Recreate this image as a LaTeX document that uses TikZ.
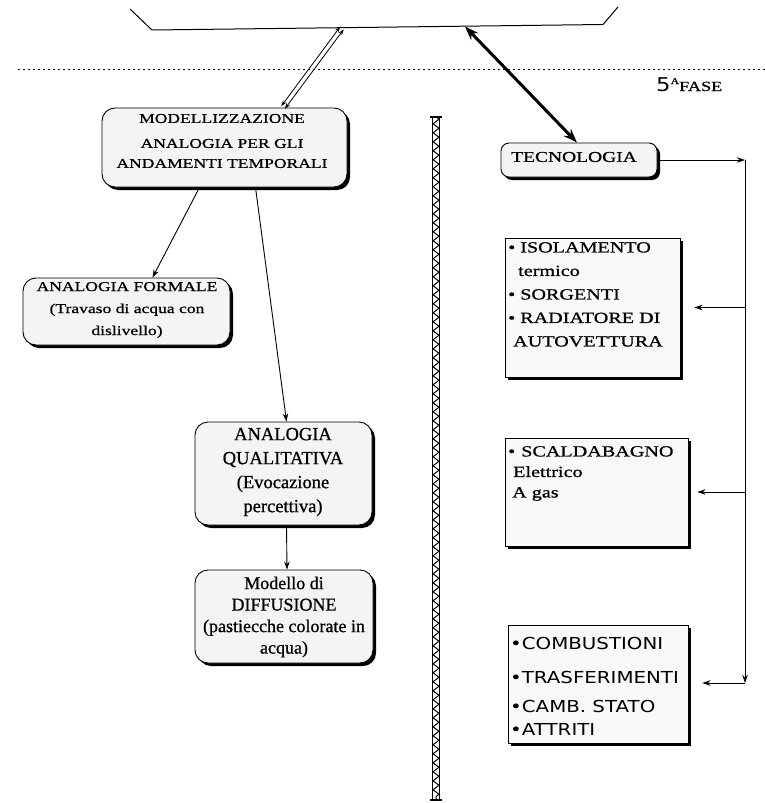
\documentclass[tikz,border=0pt]{standalone}
\usepackage{fontspec}
\setmainfont{Liberation Serif}
\newfontfamily\tms[FakeBold=0.8]{Liberation Serif}
\newfontfamily\tmsw[FakeStretch=1.3,FakeBold=0.8]{Liberation Serif}
\newfontfamily\hand[FakeStretch=1.2]{DejaVu Sans}
\usetikzlibrary{shadows,arrows.meta,decorations.pathmorphing,calc}
\begin{document}
\begin{tikzpicture}[x=1pt,y=-1pt,
  shadowed/.style={drop shadow={shadow xshift=3pt,shadow yshift=-3pt,fill=black,opacity=1}},
  rbox/.style={draw,line width=0.9pt,rounded corners=13pt,fill=gray!9,shadowed,inner sep=0pt},
  sbox/.style={draw,line width=0.9pt,fill=gray!5,shadowed,inner sep=0pt},
  txt/.style={inner sep=0pt,align=center},
  ltxt/.style={inner sep=0pt,align=left,anchor=north west},
  arr/.style={-{Stealth[length=8pt,width=5.5pt]},line width=0.9pt},
  thinarr/.style={{Stealth[length=6pt,width=4pt]}-{Stealth[length=6pt,width=4pt]},line width=0.8pt},
  thickarr/.style={{Stealth[length=14pt,width=10pt]}-{Stealth[length=14pt,width=10pt]},line width=3pt}
]
\useasboundingbox (0,0) rectangle (765,803);

% top frame line and dotted separator
\coordinate (tl1) at (130,9);
\coordinate (tl2) at (152,30);
\coordinate (tl3) at (603,24.5);
\coordinate (tl4) at (618,7);
\draw[line width=1pt] (tl1) -- (tl2) -- (tl3) -- (tl4);
\coordinate (dl1) at (18,69);
\coordinate (dl2) at (765,69);
\draw[line width=0.8pt,dash pattern=on 2pt off 3pt] (dl1) -- (dl2);

\node[inner sep=0pt,anchor=base west,font=\tmsw\fontsize{14}{15}\selectfont] (fase) at (656,91) {{\hand\fontsize{19}{19}\selectfont 5}\raisebox{7pt}{\fontsize{9}{9}\selectfont A}FASE};

% left column
\node[rbox,minimum width=245,minimum height=79] (mod) at (224.5,147.5) {};
\node[txt,font=\tmsw\fontsize{13.5}{20}\selectfont] (modt) at (222,141) {MODELLIZZAZIONE\\[5pt]ANALOGIA PER GLI\\ANDAMENTI TEMPORALI};

\node[rbox,minimum width=207,minimum height=67] (form) at (126.5,311.5) {};
\node[txt,font=\tmsw\fontsize{13.5}{22}\selectfont] (formt) at (127,310) {ANALOGIA FORMALE\\(Travaso di acqua con\\dislivello)};

\node[rbox,minimum width=177,minimum height=103] (qual) at (283.5,473.5) {};
\node[txt,font=\tms\fontsize{18.5}{24}\selectfont] (qualt) at (283,472) {ANALOGIA\\QUALITATIVA\\(Evocazione\\percettiva)};

\node[rbox,minimum width=178,minimum height=93] (diff) at (284,616.5) {};
\node[txt,font=\tms\fontsize{18}{21.5}\selectfont] (difft) at (284,617) {Modello di\\DIFFUSIONE\\(pastiecche colorate in\\acqua)};

% rope divider
\coordinate (ropeT) at (436,117);
\coordinate (ropeB) at (436,800);
\draw[line width=1.1pt] ($(ropeT)+(-3.5,0)$) -- ($(ropeB)+(-3.5,0)$);
\draw[line width=1.1pt] ($(ropeT)+(3.5,0)$) -- ($(ropeB)+(3.5,0)$);
\draw[line width=1pt,decorate,decoration={zigzag,segment length=9pt,amplitude=3pt}] (ropeT) -- (ropeB);
\draw[line width=1.4pt] ($(ropeT)+(-6,0)$) -- ($(ropeT)+(6,0)$);
\draw[line width=1.4pt] ($(ropeB)+(-6,0)$) -- ($(ropeB)+(6,0)$);

% right column
\node[rbox,rounded corners=8pt,minimum width=156,minimum height=34] (tec) at (579,160) {};
\node[txt,font=\tmsw\fontsize{15}{18}\selectfont] (tect) at (574,157) {TECNOLOGIA};

\node[sbox,minimum width=175,minimum height=139] (iso) at (592.5,307.5) {};
\node[ltxt,font=\tmsw\fontsize{15.5}{23.5}\selectfont] (isot) at (508,242) {\textbullet\hspace{5pt}ISOLAMENTO\\\hspace*{10pt}termico\\\textbullet\hspace{5pt}SORGENTI\\\textbullet\hspace{5pt}RADIATORE DI\\\hspace*{5pt}AUTOVETTURA};

\node[sbox,minimum width=183,minimum height=108] (scal) at (596.5,492) {};
\node[ltxt,font=\tmsw\fontsize{15.5}{20.5}\selectfont] (scalt) at (508,446) {\textbullet\hspace{6pt}SCALDABAGNO\\\hspace*{5pt}Elettrico\\\hspace*{4pt}A gas};

\node[sbox,minimum width=180,minimum height=118] (comb) at (598,684) {};
\node[ltxt,font=\hand\fontsize{16.5}{24}\selectfont] (combt) at (510,637) {\textbullet COMBUSTIONI\\[10pt]\textbullet TRASFERIMENTI\\[5pt]\textbullet CAMB. STATO\\[-1pt]\textbullet ATTRITI};

% connectors
\coordinate (da) at (342,28);
\coordinate (ta) at (465,26.5);
\draw[thinarr] ($([xshift=58.5pt]mod.north)+(1.8,1.3)$) -- ($(da)+(1.8,1.3)$);
\draw[thinarr] ($([xshift=58.5pt]mod.north)+(-1.8,-1.3)$) -- ($(da)+(-1.8,-1.3)$);
\draw[thickarr] (ta) -- ([xshift=-2pt]tec.north);

\draw[arr] ([xshift=-25pt]mod.south) -- ([xshift=26pt]form.north);
\draw[arr] ([xshift=31pt]mod.south) -- ([xshift=3pt]qual.north);
\draw[arr] ([xshift=3pt]qual.south) -- ([xshift=3pt]diff.north);

\coordinate (vt) at (745,160);
\coordinate (vb) at (745,683);
\draw[arr] (tec.east) -- (vt);
\draw[arr] (vt) -- (vb);
\draw[arr,shorten >=14pt] (vb) -- (comb.east |- vb);
\draw[arr,shorten >=14pt] (vt |- iso.east) -- (iso.east);
\draw[arr,shorten >=9pt] (vt |- scal.east) -- (scal.east);
\end{tikzpicture}
\end{document}
